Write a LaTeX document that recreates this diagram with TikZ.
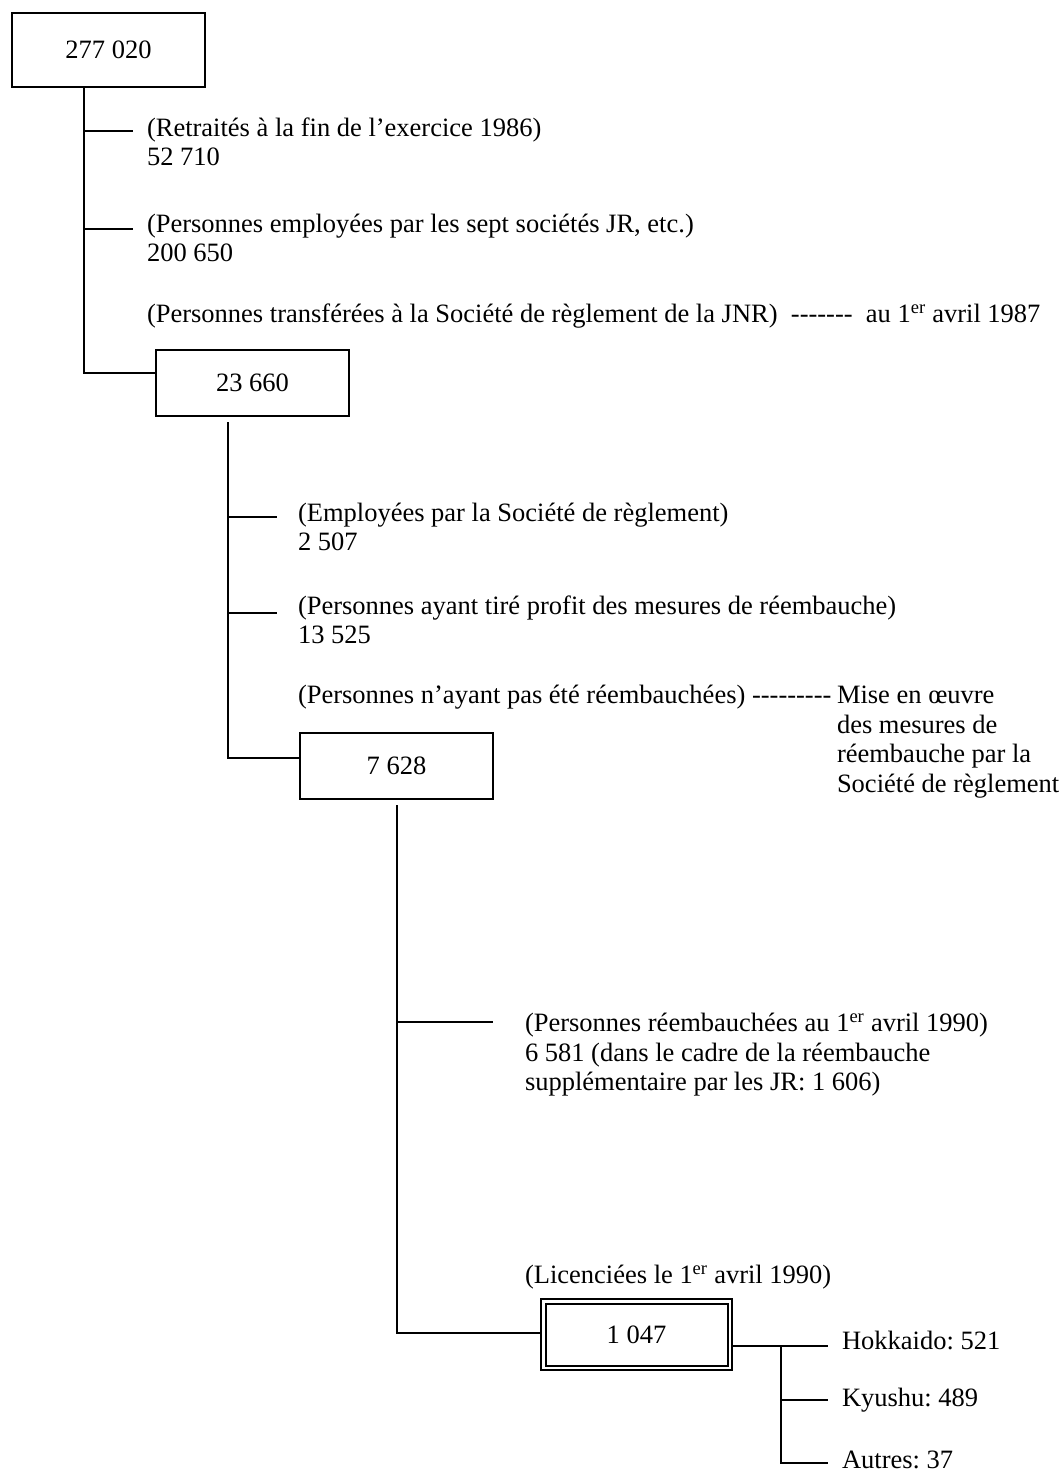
\documentclass[tikz,border=0pt]{standalone}
\usepackage{fontspec}
\setmainfont{Liberation Serif}
\usetikzlibrary{backgrounds}
\newcommand\hy{\mbox{-}}
\frenchspacing
\begin{document}
\begin{tikzpicture}[x=1pt,y=-1pt,
  every node/.style={font=\fontsize{26.5}{29.5}\selectfont\frenchspacing, inner sep=0pt, outer sep=0pt},
  box/.style={draw, line width=1.8pt, minimum width=193pt},
  dbox/.style={draw, double, double distance=2.5pt, line width=2pt, minimum width=186.5pt, minimum height=66.5pt},
  conn/.style={line width=1.5pt},
  txt/.style={anchor=west, align=left}]
\useasboundingbox (0,0) rectangle (1062,1474);

% boxes
\node[box, minimum height=74pt] (b1) at (108.5,50) {277 020};
\node[box, minimum height=66pt] (b2) at (252.5,383) {23 660};
\node[box, minimum height=66pt] (b3) at (396.5,766) {7 628};
\node[dbox] (b4) at (636.5,1334.5) {1 047};

% texts
\node[txt] (t1) at (147,142) {(Retraités à la fin de l’exercice 1986)\\52 710};
\node[txt] (t2) at (147,238) {(Personnes employées par les sept sociétés JR, etc.)\\200 650};
\node[txt] (t3) at (147,316) {(Personnes transférées à la Société de règlement de la JNR)\ \ \hy\hy\hy\hy\hy\hy\hy\ \ au 1\textsuperscript{er} avril 1987};
\node[txt] (t4) at (298,527) {(Employées par la Société de règlement)\\2 507};
\node[txt] (t5) at (298,620) {(Personnes ayant tiré profit des mesures de réembauche)\\13 525};
\node[txt] (t6) at (298,697) {(Personnes n’ayant pas été réembauchées) \hy\hy\hy\hy\hy\hy\hy\hy\hy};
\begin{scope}
\clip (820,660) rectangle (1062,799);
\node[txt] (t7) at (837,742) {Mise en œuvre\\des mesures de\\réembauche par la\\Société de règlement};
\end{scope}
\node[txt] (t8) at (525,1055) {(Personnes réembauchées au 1\textsuperscript{er} avril 1990)\\6 581 (dans le cadre de la réembauche\\supplémentaire par les JR: 1 606)};
\node[txt] (t9) at (525,1277) {(Licenciées le 1\textsuperscript{er} avril 1990)};
\node[txt] (t10) at (842,1340) {Hokkaido: 521};
\node[txt] (t11) at (842,1400) {Kyushu: 489};
\node[txt] (t12) at (842,1460) {Autres: 37};

% junction coordinates
\coordinate (k1) at (84,373);
\coordinate (a1) at (84,131);  \coordinate (e1) at (133,131);
\coordinate (a2) at (84,229);  \coordinate (e2) at (133,229);
\coordinate (s2) at (228,422); \coordinate (k2) at (228,758);
\coordinate (a3) at (228,517); \coordinate (e3) at (277,517);
\coordinate (a4) at (228,613); \coordinate (e4) at (277,613);
\coordinate (s3) at (397,805); \coordinate (k3) at (397,1333);
\coordinate (a5) at (397,1022); \coordinate (e5) at (493,1022);
\coordinate (r0) at (781,1346); \coordinate (h1) at (828,1346);
\coordinate (r1) at (781,1400); \coordinate (h2) at (828,1400);
\coordinate (r2) at (781,1463); \coordinate (h3) at (828,1463);

\begin{scope}[on background layer]
\draw[conn] (b1.south -| k1) -- (k1) -- (b2.west |- k1);
\draw[conn] (a1) -- (e1);
\draw[conn] (a2) -- (e2);
\draw[conn] (s2) -- (k2) -- (b3.west |- k2);
\draw[conn] (a3) -- (e3);
\draw[conn] (a4) -- (e4);
\draw[conn] (s3) -- (k3) -- (b4.west |- k3);
\draw[conn] (a5) -- (e5);
\draw[conn] (b4.east |- r0) -- (h1);
\draw[conn] (r0) -- (r2) -- (h3);
\draw[conn] (r1) -- (h2);
\end{scope}
\end{tikzpicture}
\end{document}
